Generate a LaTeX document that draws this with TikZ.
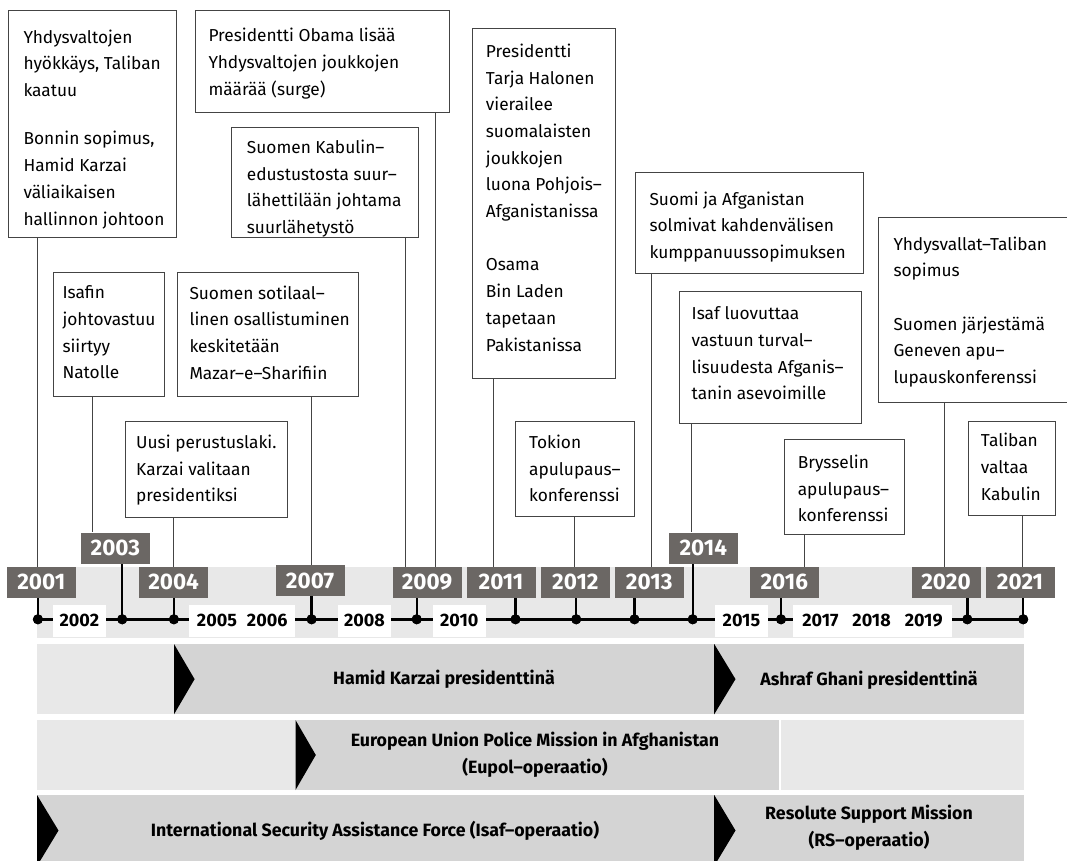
\documentclass[tikz,border=0pt]{standalone}
\usepackage{fontspec}
\setmainfont{Fira Sans}
\definecolor{lab}{HTML}{6B6764}
\definecolor{band}{HTML}{E8E8E8}
\definecolor{barD}{HTML}{D4D4D4}
\definecolor{edge}{HTML}{444444}
\begin{document}
\begin{tikzpicture}[x=1pt,y=-1pt,
  evbox/.style={draw=edge, line width=0.9pt, anchor=north west, inner sep=0pt, fill=white},
  evtext/.style={anchor=north west, inner sep=0pt, align=left, font=\fontsize{17.3}{26.7}\selectfont},
  yr/.style={fill=lab, text=white, font=\fontsize{22.5}{22.5}\selectfont\bfseries, minimum width=69pt, minimum height=31pt, inner sep=0pt},
  wyr/.style={fill=white, font=\fontsize{18}{18}\selectfont\bfseries, minimum height=31.7pt, inner sep=0pt},
  dot/.style={circle, fill=black, inner sep=0pt, minimum size=10pt},
  conn/.style={draw=edge, line width=0.9pt},
  stem/.style={line width=2.4pt},
  bartext/.style={font=\fontsize{17.8}{27}\selectfont\bfseries, align=center, inner sep=0pt},
  tri/.style={fill=black},
]
\useasboundingbox (0,0) rectangle (1067,861);

% ---------- timeline band ----------
\fill[band] (37,566.7) rectangle (1023.5,638.3);

% ---------- dots ----------
\node[dot] (d2001) at (37.9,619.3) {};
\node[dot] (d2003) at (122.2,619.3) {};
\node[dot] (d2004) at (173.9,619.3) {};
\node[dot] (d2007) at (311.6,619.3) {};
\node[dot] (d2009) at (416.7,619.3) {};
\node[dot] (d2011) at (515.5,619.3) {};
\node[dot] (d2012) at (576.2,619.3) {};
\node[dot] (d2013) at (634.5,619.3) {};
\node[dot] (d2014) at (692.7,619.3) {};
\node[dot] (d2016) at (781,619.3) {};
\node[dot] (d2020) at (967.3,619.3) {};
\node[dot] (d2021) at (1023.2,619.3) {};

% axis
\draw[stem] (d2001.center) -- (d2021.center);

% white year boxes
\node[wyr, minimum width=53.3pt] (w2002) at (79.35,620.85) {2002};
\node[wyr, minimum width=105.7pt] (w2005) at (242.25,620.85) {2005\hspace{10pt}2006};
\node[wyr, minimum width=52.6pt] (w2008) at (364.5,620.85) {2008};
\node[wyr, minimum width=52.6pt] (w2010) at (459.2,620.85) {2010};
\node[wyr, minimum width=53.1pt] (w2015) at (741.45,620.85) {2015};
\node[wyr, minimum width=158.9pt] (w2017) at (872.45,620.85) {2017\hspace{14pt}2018\hspace{14pt}2019};

% redraw dots above
\foreach \d in {d2001,d2003,d2004,d2007,d2009,d2011,d2012,d2013,d2014,d2016,d2020,d2021}
  \fill (\d) circle (5pt);

% ---------- year labels ----------
\node[yr] (y2001) at (41.3,582.2) {2001};
\node[yr] (y2003) at (115.4,548) {2003};
\node[yr] (y2004) at (173.6,582.2) {2004};
\node[yr] (y2007) at (310,580.5) {2007};
\node[yr] (y2009) at (427,582.2) {2009};
\node[yr] (y2011) at (501,582.2) {2011};
\node[yr] (y2012) at (575.4,582.2) {2012};
\node[yr] (y2013) at (649.2,582.2) {2013};
\node[yr] (y2014) at (703.3,548) {2014};
\node[yr] (y2016) at (784.3,582.2) {2016};
\node[yr] (y2020) at (946,582.2) {2020};
\node[yr] (y2021) at (1020,582.2) {2021};

% stems
\foreach \y in {2001,2003,2004,2007,2009,2011,2012,2013,2014,2016,2020,2021}
  \draw[stem] (d\y.center) -- (d\y |- y\y.south);

% ---------- event boxes ----------
\node[evbox, minimum width=167.7pt, minimum height=226.7pt] (A) at (8.3,10) {};
\node[evtext] (tA) at (23.3,29.5) {Yhdysvaltojen\\hyökkäys, Taliban\\kaatuu\\[21.7pt]Bonnin sopimus,\\Hamid Karzai\\väliaikaisen\\hallinnon johtoon};

\node[evbox, minimum width=254.3pt, minimum height=101.7pt] (B) at (195,10) {};
\node[evtext] (tB) at (208.3,28.2) {Presidentti Obama lisää\\Yhdysvaltojen joukkojen\\määrää (surge)};

\node[evbox, minimum width=187pt, minimum height=110pt] (C) at (230.7,126.7) {};
\node[evtext] (tC) at (246.7,139.9) {Suomen Kabulin–\\edustustosta suur–\\lähettilään johtama\\suurlähetystö};

\node[evbox, minimum width=143.3pt, minimum height=350pt] (D) at (471.7,27.7) {};
\node[evtext] (tD) at (485.7,43.7) {Presidentti\\Tarja Halonen\\vierailee\\suomalaisten\\joukkojen\\luona Pohjois–\\Afganistanissa\\[26.7pt]Osama\\Bin Laden\\tapetaan\\Pakistanissa};

\node[evbox, minimum width=227.7pt, minimum height=101.6pt] (E) at (635,171.7) {};
\node[evtext] (tE) at (649.3,191.5) {Suomi ja Afganistan\\solmivat kahdenvälisen\\kumppanuussopimuksen};

\node[evbox, minimum width=182pt, minimum height=132.6pt] (F) at (678.7,290.7) {};
\node[evtext] (tF) at (691.5,306.5) {Isaf luovuttaa\\vastuun turval–\\lisuudesta Afganis–\\tanin asevoimille};

\node[evbox, minimum width=195pt, minimum height=184.4pt] (G) at (878.3,217.3) {};
\node[evtext] (tG) at (893.3,236.5) {Yhdysvallat–Taliban\\sopimus\\[26.7pt]Suomen järjestämä\\Geneven apu–\\lupauskonferenssi};

\node[evbox, minimum width=118.8pt, minimum height=95pt] (H) at (515.4,420.7) {};
\node[evtext] (tH) at (528.9,434.9) {Tokion\\apulupaus–\\konferenssi};

\node[evbox, minimum width=119.3pt, minimum height=94.7pt] (I) at (784.4,439.3) {};
\node[evtext] (tI) at (797.6,454.9) {Brysselin\\apulupaus–\\konferenssi};

\node[evbox, minimum width=86.6pt, minimum height=94.3pt] (J) at (968,420.7) {};
\node[evtext] (tJ) at (980.7,433.2) {Taliban\\valtaa\\Kabulin};

\node[evbox, minimum width=110.4pt, minimum height=123.4pt] (K) at (53.3,272.3) {};
\node[evtext] (tK) at (62.3,285.5) {Isafin\\johtovastuu\\siirtyy\\Natolle};

\node[evbox, minimum width=181pt, minimum height=123.4pt] (L) at (177,272.3) {};
\node[evtext] (tL) at (189.3,285.5) {Suomen sotilaal–\\linen osallistuminen\\keskitetään\\Mazar–e–Sharifiin};

\node[evbox, minimum width=161.4pt, minimum height=96pt] (M) at (125.3,420.7) {};
\node[evtext] (tM) at (136,434.9) {Uusi perustuslaki.\\Karzai valitaan\\presidentiksi};

% ---------- connectors ----------
\coordinate (cK) at (92.7,0);
\coordinate (cC) at (405,0);
\coordinate (cB) at (435,0);
\coordinate (cD) at (493,0);
\coordinate (cH) at (574,0);
\coordinate (cE) at (651.5,0);
\coordinate (cF) at (691.5,0);
\coordinate (cI) at (804.6,0);
\coordinate (cG) at (944.7,0);
\coordinate (cJ) at (1022,0);
\draw[conn] (A.south -| d2001) -- (d2001 |- y2001.north);
\draw[conn] (K.south -| cK) -- (cK |- y2003.north);
\draw[conn] (M.south -| d2004) -- (d2004 |- y2004.north);
\draw[conn] (L.south -| d2007) -- (d2007 |- y2007.north);
\draw[conn] (C.south -| cC) -- (cC |- y2009.north);
\draw[conn] (B.south -| cB) -- (cB |- y2009.north);
\draw[conn] (D.south -| cD) -- (cD |- y2011.north);
\draw[conn] (H.south -| cH) -- (cH |- y2012.north);
\draw[conn] (E.south -| cE) -- (cE |- y2013.north);
\draw[conn] (F.south -| cF) -- (cF |- y2014.north);
\draw[conn] (I.south -| cI) -- (cI |- y2016.north);
\draw[conn] (G.south -| cG) -- (cG |- y2020.north);
\draw[conn] (J.south -| cJ) -- (cJ |- y2021.north);

% ---------- bars ----------
% bar 1
\fill[band] (37,644) rectangle (174,714.3);
\fill[barD] (174,644) rectangle (1023.8,714.3);
\fill[tri] (174,644) -- (194.6,679.15) -- (174,714.3) -- cycle;
\fill[tri] (714.2,644) -- (735.5,679.15) -- (714.2,714.3) -- cycle;
\node[bartext] (tKarzai) at (444,679.5) {Hamid Karzai presidenttinä};
\node[bartext] (tGhani) at (869,680) {Ashraf Ghani presidenttinä};
% bar 2
\fill[band] (37,720) rectangle (295.5,790);
\fill[barD] (295.5,720) rectangle (779.3,790);
\fill[band] (781,720) rectangle (1023.8,790);
\fill[tri] (295.5,720) -- (315.8,755) -- (295.5,790) -- cycle;
\node[bartext] (tEupol) at (535,754.5) {European Union Police Mission in Afghanistan\\(Eupol–operaatio)};
% bar 3
\fill[barD] (37,795) rectangle (1023.8,866);
\fill[tri] (37,795) -- (58.5,830.5) -- (37,866) -- cycle;
\fill[tri] (714.2,795) -- (735.5,830.5) -- (714.2,866) -- cycle;
\node[bartext] (tIsaf) at (375,831) {International Security Assistance Force (Isaf–operaatio)};
\node[bartext] (tRS) at (869,828) {Resolute Support Mission\\(RS–operaatio)};
\end{tikzpicture}
\end{document}
